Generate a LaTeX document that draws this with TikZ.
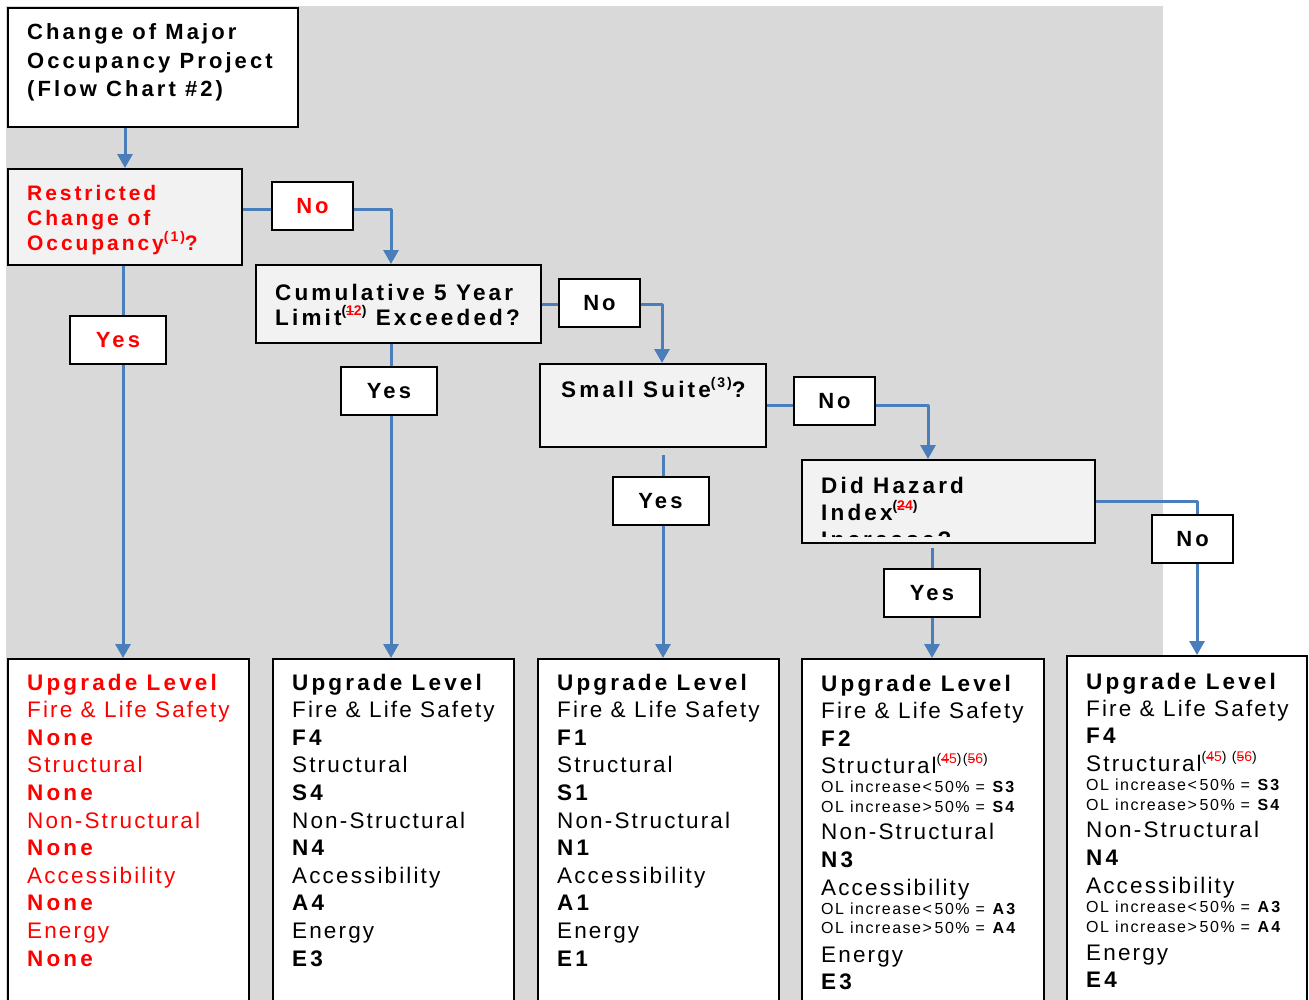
\documentclass[tikz,border=0pt]{standalone}
\usepackage{fontspec}
\setmainfont{Liberation Sans}[LetterSpace=9.5,BoldFeatures={LetterSpace=14}]
\usetikzlibrary{arrows.meta}

\definecolor{alertred}{RGB}{255,0,0}
\definecolor{flowblue}{RGB}{74,126,187}
\definecolor{bggray}{RGB}{217,217,217}
\definecolor{boxgray}{RGB}{242,242,242}

% raised footnote reference
\newcommand\supnote[1]{\raisebox{0.42em}{\fontsize{14}{14}\selectfont #1}}
% digit struck through with a red rule
\newsavebox\strikebox
\newcommand\struck[1]{\sbox\strikebox{#1}\rlap{\color{alertred}\rule[0.32\ht\strikebox]{\wd\strikebox}{1.8pt}}\usebox\strikebox}
\newcommand\smallol{\fontsize{16}{16}\selectfont}

\begin{document}
\begin{tikzpicture}[x=1pt,y=-1pt,
  box/.style={draw=black,line width=2pt,inner sep=0pt,anchor=north west},
  decision/.style={box,fill=boxgray},
  result/.style={box,fill=white},
  lbl/.style={draw=black,line width=2pt,fill=white,inner sep=0pt,
    font=\fontsize{22}{22}\bfseries,text height=15.8pt,text depth=0pt,
    minimum height=48pt},
  nolbl/.style={lbl,minimum width=81pt},
  yeslbl/.style={lbl,minimum width=96pt},
  flow/.style={draw=flowblue,line width=3pt,line join=round},
  arr/.style={flow,-{Triangle[width=15pt,length=14pt]}},
  txt/.style={anchor=base west,inner sep=0pt},
  head/.style={txt,font=\fontsize{22}{24}\bfseries},
  qtext/.style={txt,font=\fontsize{22.5}{24}\bfseries},
  ltext/.style={txt,font=\fontsize{22.5}{24}\selectfont},
]
\useasboundingbox (0,0) rectangle (1309,999);
\clip (0,0) rectangle (1309,999);

% grey panel behind the chart
\fill[bggray] (6,6) rectangle (1163,1000);

% ---- boxes ----
\node[result,minimum width=290pt,minimum height=119pt] (ttl) at (7,7) {};
\node[decision,minimum width=234pt,minimum height=96pt] (rco) at (7,168) {};
\node[decision,minimum width=285pt,minimum height=78pt] (cum) at (255,264) {};
\node[decision,minimum width=226pt,minimum height=83pt] (ss) at (539,363) {};
\node[decision,minimum width=293pt,minimum height=83pt] (hz) at (801,459) {};
\node[result,minimum width=241pt,minimum height=360pt] (u1) at (7,658) {};
\node[result,minimum width=241pt,minimum height=360pt] (u2) at (272,658) {};
\node[result,minimum width=241pt,minimum height=360pt] (u3) at (537,658) {};
\node[result,minimum width=242pt,minimum height=360pt] (u4) at (801,658) {};
\node[result,minimum width=240pt,minimum height=360pt] (u5) at (1066,655) {};

% ---- texts of the question boxes ----
\node[head] (ttl1) at (27,39) {Change of Major};
\node[head] (ttl2) at (27,68) {Occupancy Project};
\node[head] (ttl3) at (27,96) {(Flow Chart \#2)};

\node[head,text=alertred,font=\fontsize{21}{24}\bfseries] (rco1) at (27,200) {Restricted};
\node[head,text=alertred,font=\fontsize{21}{24}\bfseries] (rco2) at (27,225) {Change of};
\node[head,text=alertred,font=\fontsize{21}{24}\bfseries] (rco3) at (27,250) {Occupancy\supnote{(1)}?};

\node[qtext] (cum1) at (275,300) {Cumulative 5 Year};
\node[qtext] (cum2) at (275,325) {Limit\supnote{(\textcolor{alertred}{\struck{1}2})} Exceeded?};

\node[qtext] (ss1) at (561,397) {Small Suite\supnote{(3)}?};

\begin{scope}
  \clip (801,459) rectangle (1094,536);
  \node[qtext] (hz1) at (821,493) {Did Hazard};
  \node[qtext] (hz2) at (821,520) {Index\supnote{(\textcolor{alertred}{\struck{2}4})}};
  \node[qtext] (hz3) at (821,547) {Increase?};
\end{scope}

% ---- connectors ----
\draw[arr] (rco.north |- ttl.south) -- (rco.north);
\draw[arr] ([yshift=8pt]rco.east) -| ([xshift=-7.5pt]cum.north);
\draw[arr] ([xshift=-2pt]rco.south) -- ([xshift=-2pt]rco.south |- u1.north);
\draw[arr] (cum.east) -| ([xshift=9pt]ss.north);
\draw[arr] ([xshift=-7.5pt]cum.south) -- ([xshift=-7.5pt]cum.south |- u2.north);
\draw[arr] (ss.east) -| ([xshift=-20.5pt]hz.north);
\draw[arr,shorten <=7pt] ([xshift=10pt]ss.south) -- ([xshift=10pt]ss.south |- u3.north);
\draw[arr] (hz.east) -| ([xshift=10pt]u5.north);
\draw[arr,shorten <=4pt] ([xshift=-16.5pt]hz.south) -- ([xshift=-16.5pt]hz.south |- u4.north);

% ---- branch labels ----
\node[nolbl,text=alertred] (no1) at (312.5,206) {No};
\node[yeslbl,text=alertred] (yes1) at (118,339.5) {Yes};
\node[nolbl] (no2) at (599.5,302.5) {No};
\node[yeslbl] (yes2) at (389,391) {Yes};
\node[nolbl] (no3) at (834.5,401) {No};
\node[yeslbl] (yes3) at (660.5,500.5) {Yes};
\node[nolbl] (no4) at (1192.5,539) {No};
\node[yeslbl] (yes4) at (932,593) {Yes};

% ---- upgrade levels ----
\foreach \t [count=\i] in {{\bfseries Upgrade Level},{Fire \& Life Safety},{\bfseries None},{Structural},{\bfseries None},{Non-Structural},{\bfseries None},{Accessibility},{\bfseries None},{Energy},{\bfseries None}}
  \node[ltext,text=alertred] (ua\i) at (27,{690+27.6*(\i-1)}) {\t};

\foreach \t [count=\i] in {{\bfseries Upgrade Level},{Fire \& Life Safety},{\bfseries F4},{Structural},{\bfseries S4},{Non-Structural},{\bfseries N4},{Accessibility},{\bfseries A4},{Energy},{\bfseries E3}}
  \node[ltext] (ub\i) at (292,{690+27.6*(\i-1)}) {\t};

\foreach \t [count=\i] in {{\bfseries Upgrade Level},{Fire \& Life Safety},{\bfseries F1},{Structural},{\bfseries S1},{Non-Structural},{\bfseries N1},{Accessibility},{\bfseries A1},{Energy},{\bfseries E1}}
  \node[ltext] (uc\i) at (557,{690+27.6*(\i-1)}) {\t};

\foreach \y/\t [count=\i] in {
  691/{\bfseries Upgrade Level},
  718/{Fire \& Life Safety},
  746/{\bfseries F2},
  773/{Structural\supnote{(\textcolor{alertred}{\struck{4}5})(\textcolor{alertred}{\struck{5}6})}},
  792.5/{\smallol OL increase<\,50\% = \textbf{S3}},
  812.5/{\smallol OL increase>\,50\% = \textbf{S4}},
  839/{Non-Structural},
  867/{\bfseries N3},
  895/{Accessibility},
  914.5/{\smallol OL increase<\,50\% = \textbf{A3}},
  933.5/{\smallol OL increase>\,50\% = \textbf{A4}},
  962/{Energy},
  989/{\bfseries E3}}
  \node[ltext] (ud\i) at (821,\y) {\t};

\foreach \y/\t [count=\i] in {
  689/{\bfseries Upgrade Level},
  716/{Fire \& Life Safety},
  743/{\bfseries F4},
  771/{Structural\supnote{(\textcolor{alertred}{\struck{4}5}) (\textcolor{alertred}{\struck{5}6})}},
  790.5/{\smallol OL increase<\,50\% = \textbf{S3}},
  810.5/{\smallol OL increase>\,50\% = \textbf{S4}},
  837/{Non-Structural},
  865/{\bfseries N4},
  893/{Accessibility},
  912.5/{\smallol OL increase<\,50\% = \textbf{A3}},
  932.5/{\smallol OL increase>\,50\% = \textbf{A4}},
  960/{Energy},
  987/{\bfseries E4}}
  \node[ltext] (ue\i) at (1086,\y) {\t};
\end{tikzpicture}
\end{document}
